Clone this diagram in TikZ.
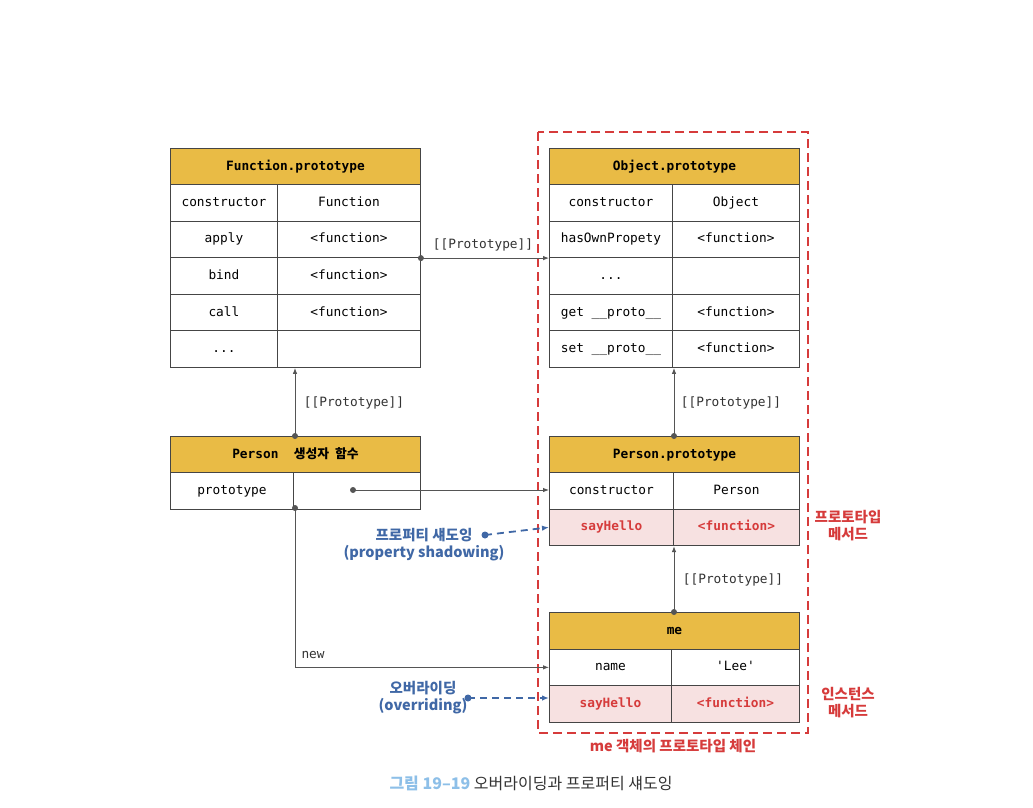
\documentclass[tikz,border=0pt]{standalone}
\usepackage{fontspec}
\setmonofont{DejaVu Sans Mono}
\newfontfamily\kr{Noto Sans CJK KR}
\usetikzlibrary{positioning,arrows.meta}

\definecolor{hdrgold}{HTML}{E9BB45}
\definecolor{rowpink}{HTML}{F7E1E1}
\definecolor{redtxt}{HTML}{D63B3B}
\definecolor{bluetxt}{HTML}{4068A6}
\definecolor{gridgray}{HTML}{454545}
\definecolor{linegray}{HTML}{555555}
\definecolor{capblue}{HTML}{8DBFE8}
\definecolor{captxt}{HTML}{333333}

\newcommand\rowdots{...}

\tikzset{
  mono/.style={font=\ttfamily\fontsize{12.8}{14}\selectfont},
  hdr/.style={draw=gridgray, line width=0.9pt, fill=hdrgold, minimum width=250pt, minimum height=36.6pt,
    inner sep=0pt, anchor=north west, text height=9.5pt, text depth=2.5pt,
    font=\ttfamily\bfseries\fontsize{12.8}{14}\selectfont},
  cell/.style={draw=gridgray, line width=0.9pt, fill=white, minimum height=36.6pt, inner sep=0pt,
    anchor=north west, text height=9.5pt, text depth=2.5pt, mono},
  redcell/.style={cell, fill=rowpink, text=redtxt, font=\ttfamily\bfseries\fontsize{12.8}{14}\selectfont},
  link/.style={draw=linegray, line width=0.9pt, -{Latex[length=6pt,width=4.5pt]}},
  bluelink/.style={draw=bluetxt, line width=1.8pt, dash pattern=on 7pt off 5pt,
    -{Latex[length=7pt,width=5.5pt]}},
  dot/.style={circle, fill=linegray, inner sep=0pt, minimum size=6pt},
  bluedot/.style={circle, fill=bluetxt, inner sep=0pt, minimum size=7pt},
  lbl/.style={mono, text=captxt},
  redlbl/.style={align=center, text=redtxt, font=\kr\bfseries\fontsize{14.5}{17}\selectfont},
  bluelbl/.style={align=center, text=bluetxt, font=\kr\bfseries\fontsize{14.5}{17}\selectfont},
}

\begin{document}
\begin{tikzpicture}[x=1pt,y=-1pt]
  \useasboundingbox[fill=white] (0,0) rectangle (1033,808);

  % prototype chain of me
  \draw[redtxt, line width=2pt, dash pattern=on 9pt off 5pt] (538,132) rectangle (808,733);

  % Function.prototype
  \node[hdr] (fp) at (170,148) {Function.prototype};
  \foreach \k/\v [count=\i] in {constructor/Function, apply/{<function>}, bind/{<function>},
      call/{<function>}, \rowdots/{}} {
    \node[cell, minimum width=107pt] (fp-k\i) at (170,{184+36.6*(\i-1)}) {\k};
    \node[cell, minimum width=143pt] (fp-v\i) at (277,{184+36.6*(\i-1)}) {\v};
  }

  % Object.prototype
  \node[hdr] (op) at (549,148) {Object.prototype};
  \foreach \k/\v [count=\i] in {constructor/Object, hasOwnPropety/{<function>}, \rowdots/{},
      get \_\_proto\_\_/{<function>}, set \_\_proto\_\_/{<function>}} {
    \node[cell, minimum width=123pt] (op-k\i) at (549,{184+36.6*(\i-1)}) {\k};
    \node[cell, minimum width=127pt] (op-v\i) at (672,{184+36.6*(\i-1)}) {\v};
  }

  % Person constructor
  \node[hdr] (pc) at (170,436) {Person\ \ {\kr 생성자\ \ 함수}};
  \node[cell, minimum width=123pt] (pc-k1) at (170,472) {prototype};
  \node[cell, minimum width=127pt] (pc-v1) at (293,472) {};

  % Person.prototype
  \node[hdr] (pp) at (549,436) {Person.prototype};
  \node[cell, minimum width=124pt] (pp-k1) at (549,472) {constructor};
  \node[cell, minimum width=126pt] (pp-v1) at (673,472) {Person};
  \node[redcell, minimum width=124pt] (pp-k2) at (549,508.6) {sayHello};
  \node[redcell, minimum width=126pt] (pp-v2) at (673,508.6) {<function>};

  % me
  \node[hdr] (me) at (549,612) {me};
  \node[cell, minimum width=122pt] (me-k1) at (549,648.6) {name};
  \node[cell, minimum width=128pt] (me-v1) at (671,648.6) {'Lee'};
  \node[redcell, minimum width=122pt] (me-k2) at (549,685.2) {sayHello};
  \node[redcell, minimum width=128pt] (me-v2) at (671,685.2) {<function>};

  % [[Prototype]] links
  \node[dot] (fp-dot) at (fp-v2.south east) {};
  \draw[link] (fp-dot.center) -- (op-k2.south west);
  \node[lbl] (lbl-fp) at (483,245) {[[Prototype]]};

  \node[dot] (pc-dot) at (295,436) {};
  \draw[link] (pc-dot.center) -- (pc-dot.center |- fp-v5.south);
  \node[lbl] (lbl-pc) at (354,403) {[[Prototype]]};

  \node[dot] (pp-dot) at (674,436) {};
  \draw[link] (pp-dot.center) -- (pp-dot.center |- op-v5.south);
  \node[lbl] (lbl-pp) at (731,403) {[[Prototype]]};

  \node[dot] (me-dot) at (674,612) {};
  \draw[link] (me-dot.center) -- (me-dot.center |- pp-v2.south);
  \node[lbl] (lbl-me) at (733,580) {[[Prototype]]};

  % prototype property and new
  \node[dot] (proto-dot) at (353,490) {};
  \draw[link] (proto-dot.center) -- (pp-k1.west |- proto-dot);
  \node[dot] (new-dot) at (295,508) {};
  \draw[link] (new-dot.center) |- (me-k1.west);
  \node[lbl, anchor=south west] (lbl-new) at (298,662) {new};

  % shadowing / overriding
  \node[bluelbl] (shadow) at (424,545) {프로퍼티 섀도잉\\(property shadowing)};
  \node[bluedot] (shadow-dot) at (485,535) {};
  \draw[bluelink] (shadow-dot.center) -- (pp-k2.west);
  \node[bluelbl] (override) at (423,698) {오버라이딩\\(overriding)};
  \node[bluedot] (override-dot) at (468,698) {};
  \coordinate (override-end) at (me-k2.west |- override-dot);
  \draw[bluelink] (override-dot.center) -- (override-end);

  \node[redlbl] (lbl-protometh) at (848,526) {프로토타입\\메서드};
  \node[redlbl] (lbl-instmeth) at (848,703) {인스턴스\\메서드};
  \node[redlbl] (lbl-chain) at (673,746) {me 객체의 프로토타입 체인};

  % caption
  \node[font=\kr\fontsize{16}{19}\selectfont, text=captxt] (caption) at (531,783)
    {{\bfseries\color{capblue}그림 19–19} 오버라이딩과 프로퍼티 섀도잉};
\end{tikzpicture}
\end{document}
